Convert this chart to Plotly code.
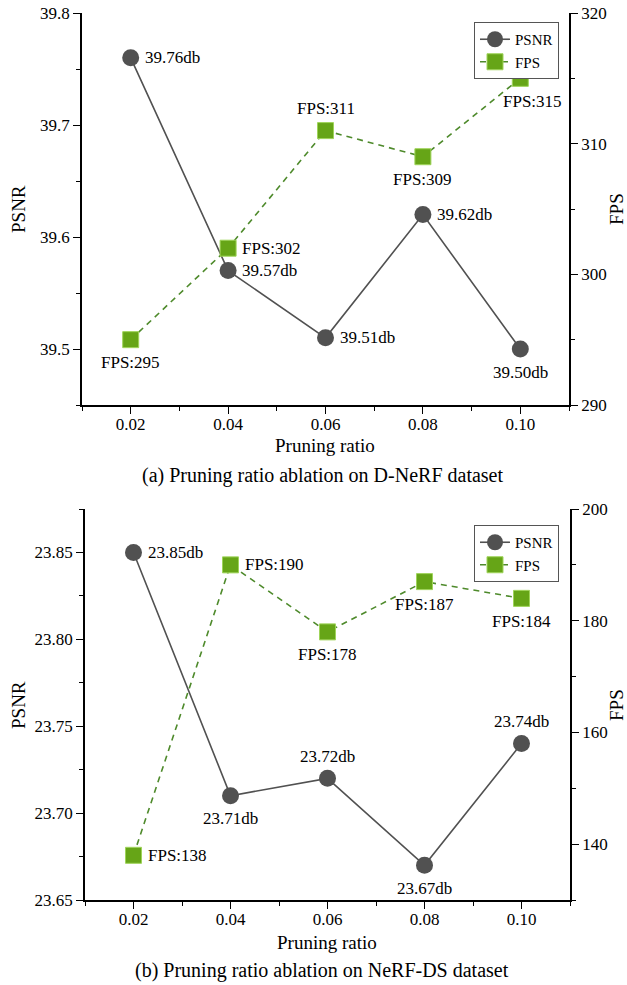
import plotly.graph_objects as go

# ---------------- data ----------------
ratios = [0.02, 0.04, 0.06, 0.08, 0.10]
ratio_tick_labels = ["0.02", "0.04", "0.06", "0.08", "0.10"]

psnr_dnerf = [39.76, 39.57, 39.51, 39.62, 39.50]
fps_dnerf = [295, 302, 311, 309, 315]

psnr_nerfds = [23.85, 23.71, 23.72, 23.67, 23.74]
fps_nerfds = [138, 190, 178, 187, 184]

# label placement relative to each marker: r = right, t = above, b = below, bR = below, nudged right
psnr_pos_dnerf = ["r", "r", "r", "r", "b"]
fps_pos_dnerf = ["b", "r", "t", "b", "bR"]
psnr_pos_nerfds = ["r", "b", "t", "b", "t"]
fps_pos_nerfds = ["r", "r", "b", "b", "b"]

captions = ["(a) Pruning ratio ablation on D-NeRF dataset",
            "(b) Pruning ratio ablation on NeRF-DS dataset"]

# ---------------- style ----------------
W, H = 627, 985
FONT = "Liberation Serif"
GRAY = "#515151"
GREEN_FILL = "#66a517"
GREEN_EDGE = "#9fd45a"
GREEN_LINE = "#4e8a2b"
TXT = 17


def px_x(p):
    return p / W


def px_y(p):
    return 1 - p / H


fig = go.Figure()

panels = [
    dict(psnr=psnr_dnerf, fps=fps_dnerf, ppos=psnr_pos_dnerf, fpos=fps_pos_dnerf,
         xa="x", ya="y", ya2="y2", legend="legend"),
    dict(psnr=psnr_nerfds, fps=fps_nerfds, ppos=psnr_pos_nerfds, fpos=fps_pos_nerfds,
         xa="x3", ya="y3", ya2="y4", legend="legend2"),
]

OFFS = {"r": dict(xanchor="left", yanchor="middle", xshift=12, yshift=0),
        "t": dict(xanchor="center", yanchor="middle", xshift=0, yshift=22),
        "b": dict(xanchor="center", yanchor="middle", xshift=0, yshift=-23),
        "bR": dict(xanchor="center", yanchor="middle", xshift=12, yshift=-23)}

ann = []
for p in panels:
    fig.add_trace(go.Scatter(
        x=ratios, y=p["psnr"], mode="lines+markers", name="PSNR",
        line=dict(color=GRAY, width=1.6),
        marker=dict(symbol="circle", size=17, color=GRAY, line=dict(color=GRAY, width=0)),
        xaxis=p["xa"], yaxis=p["ya"], legend=p["legend"]))
    fig.add_trace(go.Scatter(
        x=ratios, y=p["fps"], mode="lines+markers", name="FPS",
        line=dict(color=GREEN_LINE, width=1.6, dash="6px,5px"),
        marker=dict(symbol="square", size=16, color=GREEN_FILL, line=dict(color=GREEN_EDGE, width=1)),
        xaxis=p["xa"], yaxis=p["ya2"], legend=p["legend"]))
    for xv, yv, pos in zip(ratios, p["psnr"], p["ppos"]):
        ann.append(dict(text=f"{yv:.2f}db", x=xv, y=yv, xref=p["xa"], yref=p["ya"],
                        showarrow=False, font=dict(family=FONT, size=TXT, color="black"),
                        **OFFS[pos]))
    for xv, yv, pos in zip(ratios, p["fps"], p["fpos"]):
        ann.append(dict(text=f"FPS:{yv}", x=xv, y=yv, xref=p["xa"], yref=p["ya2"],
                        showarrow=False, font=dict(family=FONT, size=TXT, color="black"),
                        **OFFS[pos]))

axis_common = dict(showline=True, linecolor="black", linewidth=1.5, showgrid=False,
                   zeroline=False, tickcolor="black", tickwidth=1.3, automargin=False,
                   tickfont=dict(family=FONT, size=TXT, color="black"))

domA_x = [px_x(82), px_x(569)]
domA_y = [px_y(405), px_y(13)]
domB_x = [px_x(85), px_x(570)]
domB_y = [px_y(900), px_y(509)]


def xaxis_bottom(dom, anchor):
    return dict(axis_common, domain=dom, anchor=anchor, range=[0.01, 0.11],
                tickmode="array", tickvals=ratios, ticktext=ratio_tick_labels,
                ticks="outside", ticklen=7, ticklabelstandoff=-4,
                minor=dict(dtick=0.01, tick0=0.01, ticks="outside", ticklen=4,
                           tickcolor="black", tickwidth=1.3, showgrid=False))


def xaxis_top(dom, anchor, over):
    return dict(axis_common, domain=dom, anchor=anchor, overlaying=over, side="top",
                range=[0.01, 0.11], tickmode="array", tickvals=ratios,
                showticklabels=False, ticks="inside", ticklen=7,
                minor=dict(dtick=0.01, tick0=0.01, ticks="inside", ticklen=4,
                           tickcolor="black", tickwidth=1.3, showgrid=False))


legend_style = dict(xanchor="right", yanchor="top", bgcolor="white",
                    bordercolor="#555555", borderwidth=1,
                    font=dict(family=FONT, size=15), tracegroupgap=0, itemwidth=30)

fig.update_layout(
    width=W, height=H, autosize=False,
    margin=dict(l=0, r=0, t=0, b=0, pad=0, autoexpand=False),
    paper_bgcolor="white", plot_bgcolor="white",
    font=dict(family=FONT, size=TXT, color="black"),
    xaxis=xaxis_bottom(domA_x, "y"),
    xaxis2=xaxis_top(domA_x, "y", "x"),
    yaxis=dict(axis_common, domain=domA_y, anchor="x", range=[39.45, 39.8],
               dtick=0.1, tick0=39.5, tickformat=".1f", ticks="outside", ticklen=7,
               minor=dict(dtick=0.05, tick0=39.45, ticks="outside", ticklen=4,
                          tickcolor="black", tickwidth=1.3, showgrid=False)),
    yaxis2=dict(axis_common, domain=domA_y, anchor="x", overlaying="y", side="right",
                range=[290, 320], dtick=10, tick0=290, ticks="outside", ticklen=7,
                minor=dict(dtick=5, tick0=290, ticks="outside", ticklen=4,
                           tickcolor="black", tickwidth=1.3, showgrid=False)),
    xaxis3=xaxis_bottom(domB_x, "y3"),
    xaxis4=xaxis_top(domB_x, "y3", "x3"),
    yaxis3=dict(axis_common, domain=domB_y, anchor="x3", range=[23.65, 23.875],
                dtick=0.05, tick0=23.65, tickformat=".2f", ticks="outside", ticklen=7,
                minor=dict(dtick=0.025, tick0=23.65, ticks="outside", ticklen=4,
                           tickcolor="black", tickwidth=1.3, showgrid=False)),
    yaxis4=dict(axis_common, domain=domB_y, anchor="x3", overlaying="y3", side="right",
                range=[130, 200], dtick=20, tick0=140, ticks="outside", ticklen=7,
                minor=dict(dtick=10, tick0=130, ticks="outside", ticklen=4,
                           tickcolor="black", tickwidth=1.3, showgrid=False)),
    legend=dict(legend_style, x=px_x(559), y=px_y(22)),
    legend2=dict(legend_style, x=px_x(559), y=px_y(525)),
)

# axis titles
for yc in [209, 705]:
    ann.append(dict(text="PSNR", x=px_x(18), y=px_y(yc), xref="paper", yref="paper",
                    xanchor="center", yanchor="middle",
                    showarrow=False, textangle=-90, font=dict(family=FONT, size=19)))
    ann.append(dict(text="FPS", x=px_x(616), y=px_y(yc), xref="paper", yref="paper",
                    xanchor="center", yanchor="middle",
                    showarrow=False, textangle=-90, font=dict(family=FONT, size=19)))
for xc, yc in [(325, 445), (327, 942)]:
    ann.append(dict(text="Pruning ratio", x=px_x(xc), y=px_y(yc), xref="paper", yref="paper",
                    xanchor="center", yanchor="middle",
                    showarrow=False, font=dict(family=FONT, size=19)))
# captions
for cap, yc in zip(captions, [475, 970]):
    ann.append(dict(text=cap, x=px_x(322), y=px_y(yc), xref="paper", yref="paper",
                    xanchor="center", yanchor="middle",
                    showarrow=False, font=dict(family=FONT, size=20)))
fig.update_layout(annotations=ann)

fig.write_html("out.html", config={"displayModeBar": False},
               post_script="document.body.style.margin='0';document.body.style.padding='0';")
